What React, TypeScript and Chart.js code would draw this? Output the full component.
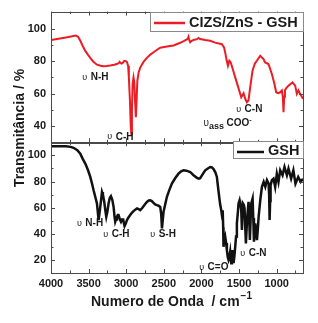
import React, { useEffect, useRef } from 'react';
import { Chart, registerables } from 'chart.js';
Chart.register(...registerables);

// CIZS/ZnS - GSH (top panel)
const wnTop = [4000, 3900, 3800, 3720, 3670, 3640, 3610, 3580, 3544, 3510, 3478, 3440, 3389, 3340, 3305, 3260, 3212, 3160, 3123, 3095, 3085, 3065, 3050, 3026, 3005, 2990, 2975, 2965, 2950, 2940, 2932, 2924, 2915, 2903, 2893, 2882, 2872, 2862, 2852, 2835, 2814, 2770, 2725, 2680, 2637, 2590, 2548, 2460, 2371, 2282, 2230, 2194, 2180, 2172, 2162, 2150, 2130, 2105, 2060, 2040, 2017, 1950, 1884, 1818, 1728, 1700, 1684, 1665, 1648, 1630, 1615, 1604, 1580, 1551, 1525, 1498, 1471, 1455, 1440, 1418, 1396, 1375, 1352, 1321, 1290, 1263, 1219, 1175, 1153, 1109, 1064, 1030, 1007, 980, 953, 931, 918, 909, 900, 890, 870, 843, 790, 754, 732, 720, 710, 690, 674, 650];
const tTop = [93, 93.8, 94.6, 95.3, 95.8, 95, 92.5, 89.5, 86.3, 84, 82, 79.8, 77.8, 77.1, 76.9, 77, 77.3, 77.8, 78.2, 79, 79.3, 78.5, 78.8, 80.2, 80, 79.4, 77, 70, 55, 40, 35, 50, 66, 70, 67, 55, 45.5, 56, 68, 73, 76, 79.5, 82, 84, 85.5, 87, 88.3, 89, 89.6, 91.3, 92.5, 93.4, 94, 95, 93, 91.6, 92.5, 93, 93.5, 94.2, 93.6, 93, 92.5, 91.4, 90.4, 88.5, 85.3, 80.5, 77.2, 80.2, 79.5, 78.2, 74.5, 70, 66, 61.9, 57.7, 59, 60.2, 56.8, 54.7, 55.7, 63.9, 74.1, 78.5, 80.2, 83.3, 81.3, 79.2, 78.2, 72.1, 66, 60.8, 60.3, 60.8, 61.9, 58, 48.6, 58, 62, 63.5, 64.9, 66.9, 64.9, 59.8, 61, 62, 60, 58.8, 56.8];

// GSH (bottom panel)
const wnBot = [4000, 3900, 3800, 3740, 3700, 3650, 3611, 3580, 3544, 3510, 3478, 3455, 3434, 3410, 3389, 3375, 3367, 3357, 3345, 3332, 3322, 3310, 3292, 3278, 3265, 3250, 3235, 3218, 3203, 3185, 3168, 3155, 3146, 3135, 3124, 3112, 3102, 3085, 3070, 3056, 3043, 3032, 3022, 3005, 2990, 2970, 2947, 2925, 2903, 2880, 2857, 2835, 2814, 2790, 2770, 2745, 2725, 2700, 2681, 2660, 2637, 2615, 2592, 2570, 2548, 2535, 2525, 2515, 2504, 2480, 2459, 2430, 2393, 2350, 2305, 2270, 2238, 2200, 2150, 2105, 2060, 2035, 2017, 1985, 1950, 1915, 1884, 1861, 1839, 1815, 1795, 1780, 1764, 1750, 1737, 1725, 1720, 1715, 1711, 1707, 1696, 1684, 1672, 1662, 1650, 1640, 1630, 1618, 1610, 1604, 1595, 1586, 1580, 1573, 1562, 1551, 1540, 1529, 1515, 1507, 1493, 1480, 1471, 1462, 1449, 1436, 1427, 1418, 1409, 1400, 1391, 1374, 1365, 1356, 1347, 1338, 1320, 1311, 1302, 1293, 1285, 1272, 1262, 1250, 1240, 1218, 1196, 1173, 1151, 1129, 1107, 1100, 1094, 1087, 1081, 1064, 1042, 1020, 998, 976, 953, 922, 896, 864, 843, 808, 778, 750, 714, 681, 650];
const tBot = [107, 107, 107, 106.5, 105.8, 104, 101.3, 97.5, 93.7, 89, 83.5, 78.5, 73.3, 68, 63.2, 55, 50.5, 55, 60.6, 67, 72, 70, 64.4, 58, 53, 57, 63.2, 67.5, 68.8, 66, 60.6, 53, 49.2, 51, 53, 54.3, 54.3, 51, 49.2, 51, 51.8, 48.5, 45.9, 48, 50.5, 52.5, 54.3, 56, 57.3, 58.5, 59.4, 58.8, 58.1, 59.5, 61.1, 63, 64.4, 65.5, 65.7, 65, 63.7, 62.5, 61.9, 61.5, 60.6, 55, 44.1, 50, 56.8, 63, 68.3, 73, 78.4, 82.5, 86, 87.8, 88.6, 88.3, 87.3, 84.8, 82.8, 82.2, 82.6, 85.5, 88.6, 90, 91.1, 90.8, 89.5, 87, 83.5, 76, 68.3, 62, 58.1, 53, 50.5, 58, 45, 30.1, 35, 37.8, 33, 27.6, 22, 20, 22, 26.3, 21, 17.5, 22, 27.6, 22, 17.5, 23, 30.1, 38, 48, 57, 63.2, 65.7, 62, 58.1, 42.9, 63.2, 62, 59.4, 45, 32.7, 43, 53, 64.4, 52, 35.2, 50, 63.2, 67, 52, 34, 40, 48, 42, 35.2, 44, 53, 65.7, 75.9, 79.7, 75.9, 81, 78.4, 70, 50.5, 65, 77, 81, 82.2, 75.9, 86, 79.7, 88.6, 84.8, 91.1, 84.8, 89.8, 82.2, 88.6, 78.4, 83.5, 79.7, 82.2];

const xTicks = [4000, 3500, 3000, 2500, 2000, 1500, 1000];
const yTopTicks = [40, 60, 80, 100];
const yBotTicks = [20, 40, 60, 80, 100];

const legendTop = 'CIZS/ZnS - GSH';
const legendBot = 'GSH';
const xTitle = 'Numero de Onda  / cm';
const xTitleSup = '\u22121';
const yTitle = 'Transmitância / %';

const topNotes = [
  { label: 'N-H', wn: 3584, t: 70 },
  { label: 'C-H', wn: 3252, t: 33.3 },
  { label: 'C-N', wn: 1538, t: 50.2 },
];
const bottomNotes = [
  { label: 'N-H', wn: 3655, t: 48 },
  { label: 'C-H', wn: 3305, t: 39.6 },
  { label: 'S-H', wn: 2681, t: 39.6 },
  { label: 'C=O', wn: 2030, t: 14.1 },
  { label: 'C-N', wn: 1483, t: 25.1 },
];
const cooNote = { wn: 1973, t: 41.6 };
const legendTopStart = 2681;
const legendBotStart = 1582;

const FONT = '"Liberation Sans", Arial, Helvetica, sans-serif';
const RED = '#ec1c24';
const BLACK = '#111111';
const FRAME = '#4a4a4a';

const decorPlugin = {
  id: 'decor',
  afterDraw(chart: any) {
    const ctx = chart.ctx as CanvasRenderingContext2D;
    const x = chart.scales.x;
    const yT = chart.scales.yTop;
    const yB = chart.scales.yBot;
    const L = chart.chartArea.left;
    const R = chart.chartArea.right;
    ctx.save();

    const panels = [
      { s: yT, top: yT.top, bottom: yT.bottom },
      { s: yB, top: yB.top, bottom: yB.bottom },
    ];
    ctx.strokeStyle = FRAME;
    ctx.lineWidth = 1;
    for (const p of panels) {
      ctx.strokeRect(Math.round(L) + 0.5, Math.round(p.top) + 0.5, Math.round(R - L), Math.round(p.bottom - p.top));
      for (let v = 4000; v >= 650; v -= 250) {
        const px = Math.round(x.getPixelForValue(v)) + 0.5;
        const len = v % 500 === 0 ? 4 : 2.5;
        ctx.beginPath();
        ctx.moveTo(px, p.top);
        ctx.lineTo(px, p.top + len);
        ctx.moveTo(px, p.bottom);
        ctx.lineTo(px, p.bottom - len);
        ctx.stroke();
      }
      const s = p.s;
      for (let v = Math.ceil(s.min / 10) * 10; v <= s.max; v += 10) {
        const py = Math.round(s.getPixelForValue(v)) + 0.5;
        const len = v % 20 === 0 ? 4 : 2.5;
        ctx.beginPath();
        ctx.moveTo(L, py);
        ctx.lineTo(L + len, py);
        ctx.moveTo(R, py);
        ctx.lineTo(R - len, py);
        ctx.stroke();
      }
    }

    // legends
    ctx.font = 'bold 14.5px ' + FONT;
    ctx.textBaseline = 'middle';
    ctx.textAlign = 'left';
    {
      const bx = Math.round(x.getPixelForValue(legendTopStart));
      const by = Math.round(yT.top);
      const bw = Math.round(R - bx);
      const bh = 19;
      ctx.fillStyle = '#ffffff';
      ctx.fillRect(bx, by, bw, bh);
      ctx.strokeStyle = '#8a8a8a';
      ctx.lineWidth = 1;
      ctx.strokeRect(bx + 0.5, by + 0.5, bw, bh);
      ctx.strokeStyle = RED;
      ctx.lineWidth = 2.5;
      ctx.beginPath();
      ctx.moveTo(bx + 4, by + 11);
      ctx.lineTo(bx + 35, by + 11);
      ctx.stroke();
      ctx.fillStyle = '#1a1a1a';
      ctx.fillText(legendTop, bx + 39, by + 11);
    }
    {
      const bx = Math.round(x.getPixelForValue(legendBotStart));
      const by = Math.round(yB.top) - 1;
      const bw = Math.round(R - bx);
      const bh = 17;
      ctx.fillStyle = '#ffffff';
      ctx.fillRect(bx, by, bw, bh);
      ctx.strokeStyle = '#8a8a8a';
      ctx.lineWidth = 1;
      ctx.strokeRect(bx + 0.5, by + 0.5, bw, bh);
      ctx.strokeStyle = BLACK;
      ctx.lineWidth = 2.5;
      ctx.beginPath();
      ctx.moveTo(bx + 4, by + 11);
      ctx.lineTo(bx + 31, by + 11);
      ctx.stroke();
      ctx.fillStyle = '#1a1a1a';
      ctx.fillText(legendBot, bx + 35, by + 10);
    }

    // annotations
    const noteFont = 'bold 10px ' + FONT;
    const nuFont = '9px ' + FONT;
    const drawNote = (label: string, wn: number, t: number, s: any) => {
      let px = x.getPixelForValue(wn);
      const py = s.getPixelForValue(t);
      ctx.fillStyle = '#1a1a1a';
      ctx.font = nuFont;
      ctx.fillText('\u03c5', px, py);
      px += ctx.measureText('\u03c5 ').width + 1;
      ctx.font = noteFont;
      ctx.fillText(label, px, py);
    };
    for (const n of topNotes) drawNote(n.label, n.wn, n.t, yT);
    for (const n of bottomNotes) drawNote(n.label, n.wn, n.t, yB);
    {
      let px = x.getPixelForValue(cooNote.wn);
      const py = yT.getPixelForValue(cooNote.t);
      ctx.fillStyle = '#1a1a1a';
      ctx.font = '10px ' + FONT;
      ctx.fillText('\u03c5', px, py);
      px += ctx.measureText('\u03c5').width;
      ctx.font = 'bold 9px ' + FONT;
      ctx.fillText('ass', px, py + 3);
      px += ctx.measureText('ass ').width;
      ctx.font = 'bold 10px ' + FONT;
      ctx.fillText('COO', px, py);
      px += ctx.measureText('COO').width;
      ctx.font = 'bold 7px ' + FONT;
      ctx.fillText('-', px, py - 3);
    }

    // x title
    ctx.fillStyle = '#1a1a1a';
    ctx.font = 'bold 14px ' + FONT;
    const tw = ctx.measureText(xTitle).width;
    ctx.font = 'bold 10px ' + FONT;
    const sw = ctx.measureText(xTitleSup).width;
    const tx = 171 - (tw + sw) / 2;
    ctx.font = 'bold 14px ' + FONT;
    ctx.fillText(xTitle, tx, 302);
    ctx.font = 'bold 10px ' + FONT;
    ctx.fillText(xTitleSup, tx + tw + 1, 296);

    // y title
    ctx.save();
    ctx.translate(20, 128);
    ctx.rotate(-Math.PI / 2);
    ctx.textAlign = 'center';
    ctx.font = 'bold 14px ' + FONT;
    ctx.fillText(yTitle, 0, 0);
    ctx.restore();

    ctx.restore();
  },
};

export default function App() {
  const ref = useRef<HTMLCanvasElement | null>(null);
  useEffect(() => {
    document.body.style.margin = '0';
    const canvas = ref.current;
    if (!canvas) return;
    const tickFont = { family: FONT, size: 11, weight: 'bold' as const };
    const chart = new Chart(canvas, {
      type: 'line',
      data: {
        datasets: [
          {
            label: legendTop,
            data: wnTop.map((w, i) => ({ x: w, y: tTop[i] })),
            yAxisID: 'yTop',
            borderColor: RED,
            borderWidth: 2,
            pointRadius: 0,
            tension: 0,
          },
          {
            label: legendBot,
            data: wnBot.map((w, i) => ({ x: w, y: tBot[i] })),
            yAxisID: 'yBot',
            borderColor: BLACK,
            borderWidth: 2.5,
            pointRadius: 0,
            tension: 0,
          },
        ],
      },
      options: {
        responsive: false,
        animation: false,
        devicePixelRatio: 1,
        layout: { padding: { top: 10, right: 15, left: 0, bottom: 0 } },
        plugins: { legend: { display: false }, tooltip: { enabled: false } },
        scales: {
          x: {
            type: 'linear',
            reverse: true,
            min: 650,
            max: 4000,
            afterBuildTicks: (s: any) => { s.ticks = xTicks.map((v) => ({ value: v })); },
            ticks: { font: tickFont, color: '#1a1a1a', padding: 4, maxRotation: 0, autoSkip: false, callback: (v: any) => String(v) },
            grid: { display: false, drawTicks: false },
            border: { display: false },
            afterFit: (s: any) => { s.height = 50; },
          },
          yBot: {
            type: 'linear',
            position: 'left',
            stack: 'ir',
            stackWeight: 1,
            min: 10,
            max: 110,
            afterBuildTicks: (s: any) => { s.ticks = yBotTicks.map((v) => ({ value: v })); },
            ticks: { font: tickFont, color: '#1a1a1a', padding: 5, callback: (v: any) => String(v) },
            grid: { display: false, drawTicks: false },
            border: { display: false },
            afterFit: (s: any) => { s.width = 51; },
          },
          yTop: {
            type: 'linear',
            position: 'left',
            stack: 'ir',
            stackWeight: 1,
            min: 30,
            max: 110.5,
            afterBuildTicks: (s: any) => { s.ticks = yTopTicks.map((v) => ({ value: v })); },
            ticks: { font: tickFont, color: '#1a1a1a', padding: 5, callback: (v: any) => String(v) },
            grid: { display: false, drawTicks: false },
            border: { display: false },
            afterFit: (s: any) => { s.width = 51; },
          },
        },
      } as any,
      plugins: [decorPlugin],
    });
    return () => chart.destroy();
  }, []);
  return (
    <div style={{ position: 'absolute', left: 0, top: 0, width: 318, height: 323, background: '#fff' }}>
      <canvas ref={ref} width={318} height={323} style={{ width: 318, height: 323, display: 'block' }} />
    </div>
  );
}
